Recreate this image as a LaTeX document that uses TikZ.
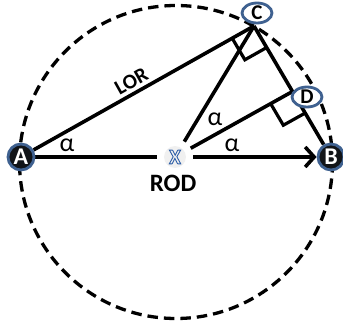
\documentclass[tikz,border=0pt]{standalone}
\usepackage{fontspec}
\setmainfont{Carlito}
\usetikzlibrary{arrows.meta,shapes.geometric,calc}
\definecolor{ring}{HTML}{3F6190}
\definecolor{dark}{HTML}{111418}
\definecolor{xblue}{HTML}{2E5FA8}
\pgfdeclarelayer{bg}
\pgfsetlayers{bg,main}
\begin{document}
\begin{tikzpicture}[x=1pt,y=-1pt,
  solidline/.style={line width=3.6pt},
  circline/.style={line width=3.3pt, dash pattern=on 10.5pt off 6pt},
  endpt/.style={circle, fill=dark, draw=ring, line width=2.8pt, minimum size=26pt, inner sep=0pt, text=white, font=\fontsize{24}{24}\selectfont\bfseries},
  lbl/.style={ellipse, fill=white, draw=ring, line width=2.8pt, minimum width=30pt, minimum height=20pt, inner sep=0pt, font=\fontsize{21}{21}\selectfont\bfseries},
  ang/.style={font=\fontsize{26}{26}\selectfont},
  rmark/.style={line width=3.2pt},
  xglyph/.style={font=\fontsize{21}{21}\selectfont\bfseries, inner sep=0pt}]
\useasboundingbox (0,0) rectangle (343,326);

% centres
\coordinate (Ac) at (21,157);
\coordinate (Bc) at (331,157);
\coordinate (Xc) at (175,157);
\coordinate (Cv) at (254,26);
\coordinate (F) at ($(Cv)!0.5!(Bc)$);

% nodes
\node[endpt] (A) at (Ac) {A};
\node[endpt] (B) at (Bc) {B};
\node[circle, fill=gray!12, minimum size=22pt, inner sep=0pt, outer sep=7pt] (X) at (Xc) {};
\node[xglyph] (Xt) at (Xc) {\color{xblue}\special{pdf:literal direct 1 Tr 0.9 w}X\special{pdf:literal direct 0 Tr}};
\node[lbl] (C) at (257,13) {C};
\node[lbl] (D) at (307,97) {D};

\node[ang] (a1) at (67,145) {α};
\node[ang] (a2) at (232,145) {α};
\node[ang] (a3) at (215,119) {α};
\node[font=\fontsize{25}{25}\selectfont\bfseries] (rod) at (173,183) {ROD};

\begin{pgfonlayer}{bg}
  \draw[circline] (176,162) circle (156.5);
  \draw[solidline] (A) -- (Cv) node[pos=0.47, above=3pt, sloped, inner sep=0pt, font=\fontsize{21}{21}\selectfont\bfseries] (lor) {LOR};
  \draw[solidline] (Cv) -- (B);
  \draw[solidline] (X) -- (Cv);
  \draw[solidline] (X) -- (F);
  \draw[solidline] (A) -- (X);
  \draw[solidline, -{Straight Barb[length=9pt,width=20pt]}] (X) -- (B);
  % right angle at C
  \coordinate (c1) at ($(Cv)!25pt!(Ac)$);
  \coordinate (c2) at ($(Cv)!25pt!(Bc)$);
  \draw[rmark] (c1) -- ($(c1)+(c2)-(Cv)$) -- (c2);
  % right angle at D
  \coordinate (d1) at ($(F)!25pt!(Xc)$);
  \coordinate (d2) at ($(F)!25pt!(Bc)$);
  \draw[rmark] (d1) -- ($(d1)+(d2)-(F)$) -- (d2);
\end{pgfonlayer}
\end{tikzpicture}
\end{document}
